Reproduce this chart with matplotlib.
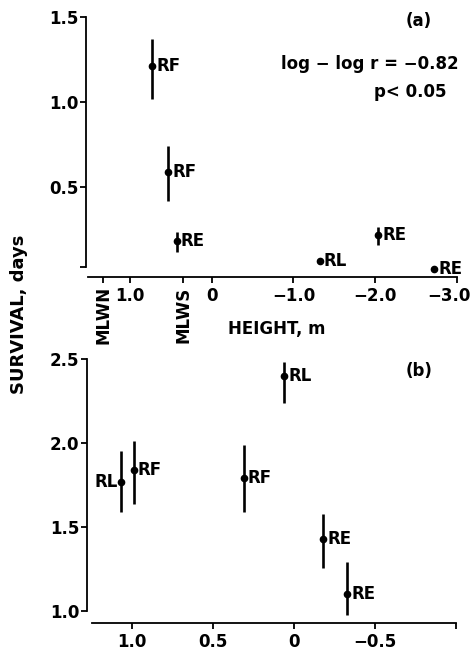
import matplotlib
matplotlib.use("Agg")
import matplotlib.pyplot as plt
import matplotlib.transforms as mtransforms

plt.rcParams['font.family'] = ['DejaVu Sans']
plt.rcParams['font.weight'] = 'bold'

# Panel (a)
a_height = [0.73, 0.53, 0.43, -1.32, -2.04, -2.72]
a_surv = [1.21, 0.59, 0.18, 0.065, 0.22, 0.015]
a_low = [1.02, 0.42, 0.12, 0.065, 0.16, 0.015]
a_high = [1.37, 0.74, 0.235, 0.065, 0.265, 0.015]
a_labels = ['RF', 'RF', 'RE', 'RL', 'RE', 'RE']
a_xticks = [1.0, 0, -1.0, -2.0, -3.0]
a_xticklabels = ['1.0', '0', '\u22121.0', '\u22122.0', '\u22123.0']
a_yticks = [0.5, 1.0, 1.5]
tide_levels = {'MLWN': 1.33, 'MLWS': 0.35}

# Panel (b)
b_height = [1.07, 0.99, 0.31, 0.06, -0.18, -0.33]
b_surv = [1.77, 1.84, 1.79, 2.40, 1.43, 1.10]
b_low = [1.59, 1.64, 1.59, 2.24, 1.26, 0.98]
b_high = [1.95, 2.01, 1.99, 2.48, 1.58, 1.29]
b_labels = ['RL', 'RF', 'RF', 'RL', 'RE', 'RE']
b_label_side = ['left', 'right', 'right', 'right', 'right', 'right']
b_xticks = [1.0, 0.5, 0, -0.5, -1.0]
b_xticklabels = ['1.0', '0.5', '0', '\u22120.5', '']
b_yticks = [1.0, 1.5, 2.0, 2.5]

W, H = 471, 655
fig = plt.figure(figsize=(W / 100, H / 100), dpi=100)

def px_axes(left, top, right, bottom):
    return fig.add_axes([left / W, 1 - bottom / H, (right - left) / W, (bottom - top) / H])

FS = 12

def style(ax):
    for s in ['top', 'right']:
        ax.spines[s].set_visible(False)
    for s in ['left', 'bottom']:
        ax.spines[s].set_linewidth(1.3)
    ax.tick_params(axis='both', direction='out', length=4, width=1.3, labelsize=FS)
    ax.tick_params(axis='y', pad=1.5)
    ax.tick_params(axis='x', pad=3)
    for lab in ax.get_xticklabels() + ax.get_yticklabels():
        lab.set_fontweight('bold')

# ---- Panel (a)
ax1 = px_axes(86, 17, 460, 277)
ax1.set_xlim(1.54, -3.04)
ax1.set_ylim(-0.03, 1.5)
for x, y, lo, hi, lab in zip(a_height, a_surv, a_low, a_high, a_labels):
    ax1.plot([x, x], [lo, hi], color='black', lw=1.9, solid_capstyle='butt')
    ax1.plot(x, y, 'o', color='black', ms=4.5)
    ax1.annotate(lab, (x, y), xytext=(3, 0), textcoords='offset points',
                 ha='left', va='center', fontsize=FS, fontweight='bold')
ax1.spines['left'].set_bounds(0.03, 1.5)
ax1.spines['bottom'].set_bounds(1.52, -3.0)
ax1.set_yticks([0.03] + a_yticks)
ax1.set_yticklabels([''] + ['%.1f' % v for v in a_yticks])
ax1.set_xticks(list(tide_levels.values()) + a_xticks)
ax1.set_xticklabels([''] * len(tide_levels) + a_xticklabels)
style(ax1)
# keep the last tick label inside the figure
last = ax1.get_xticklabels()[-1]
last.set_transform(last.get_transform() + mtransforms.ScaledTranslation(-8 / 100, 0, fig.dpi_scale_trans))
for name, xv in tide_levels.items():
    ax1.text(xv, -0.085, name, rotation=90, ha='center', va='top', fontsize=FS,
             fontweight='bold', transform=ax1.transData)
ax1.text(0.51, -0.165, 'HEIGHT, m', transform=ax1.transAxes, ha='center', va='top',
         fontsize=FS, fontweight='bold')
ax1.text(0.89, 0.985, '(a)', transform=ax1.transAxes, ha='center', va='center',
         fontsize=FS, fontweight='bold')
ax1.text(0.995, 0.82, 'log \u2212 log r = \u22120.82', transform=ax1.transAxes,
         ha='right', va='center', fontsize=FS, fontweight='bold')
ax1.text(0.965, 0.71, 'p< 0.05', transform=ax1.transAxes,
         ha='right', va='center', fontsize=FS, fontweight='bold')

# ---- Panel (b)
ax2 = px_axes(87, 359, 460, 623)
ax2.set_xlim(1.278, -1.025)
ax2.set_ylim(0.93, 2.5)
for x, y, lo, hi, lab, side in zip(b_height, b_surv, b_low, b_high, b_labels, b_label_side):
    ax2.plot([x, x], [lo, hi], color='black', lw=1.9, solid_capstyle='butt')
    ax2.plot(x, y, 'o', color='black', ms=4.5)
    off = 3 if side == 'right' else -2.0
    ax2.annotate(lab, (x, y), xytext=(off, 0), textcoords='offset points',
                 ha='left' if side == 'right' else 'right',
                 va='center', fontsize=FS, fontweight='bold')
ax2.spines['left'].set_bounds(1.0, 2.5)
ax2.spines['bottom'].set_bounds(1.25, -1.0)
ax2.set_yticks(b_yticks)
ax2.set_yticklabels(['%.1f' % v for v in b_yticks])
ax2.set_xticks(b_xticks)
ax2.set_xticklabels(b_xticklabels)
style(ax2)
ax2.text(0.89, 0.955, '(b)', transform=ax2.transAxes, ha='center', va='center',
         fontsize=FS, fontweight='bold')

fig.text(19 / W, 1 - 314 / H, 'SURVIVAL, days', rotation=90, ha='center', va='center',
         fontsize=13, fontweight='bold')

fig.savefig('out.png', dpi=100)
